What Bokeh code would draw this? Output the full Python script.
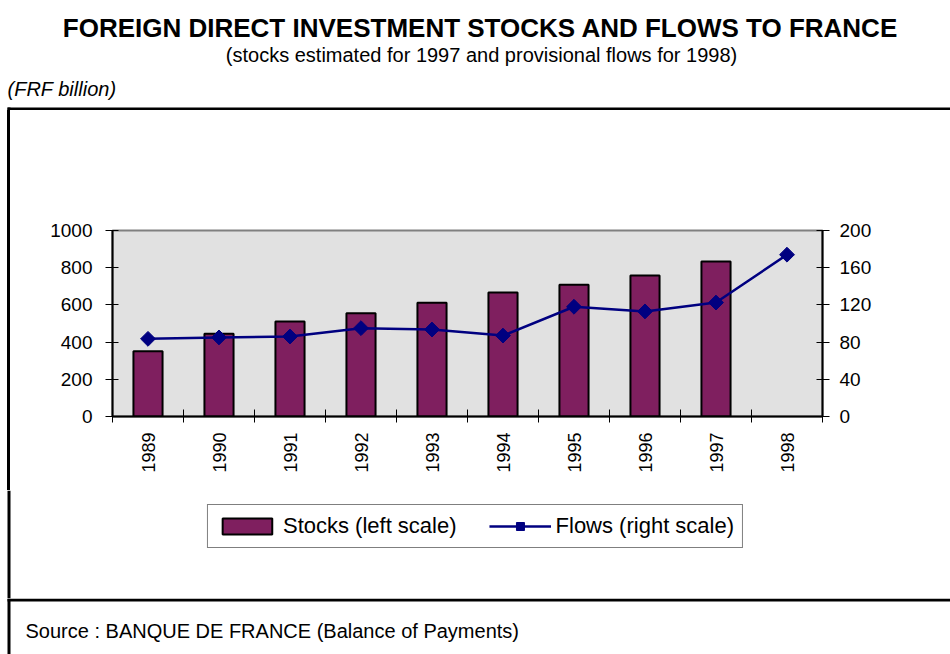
import numpy as np
from bokeh.plotting import figure
from bokeh.layouts import column
from bokeh.models import (ColumnDataSource, Range1d, LinearAxis, Label, BoxAnnotation,
                          Legend, LegendItem, FixedTicker)
from bokeh.embed import file_html
from bokeh.resources import INLINE

years = [1989, 1990, 1991, 1992, 1993, 1994, 1995, 1996, 1997, 1998]
stocks = [351, 445, 511, 555, 611, 667, 708, 758, 833]
flows = [83.5, 85, 86, 95, 93.5, 87, 118, 113, 122.5, 174]
left_ticks = [0, 200, 400, 600, 800, 1000]
right_ticks = [0, 40, 80, 120, 160, 200]
series_names = ["Stocks (left scale)", "Flows (right scale)"]

title_text = "FOREIGN DIRECT INVESTMENT STOCKS AND FLOWS TO FRANCE"
subtitle_text = "(stocks estimated for 1997 and provisional flows for 1998)"
unit_text = "(FRF billion)"
source_text = "Source : BANQUE DE FRANCE (Balance of Payments)"

FONT = "Liberation Sans"
BAR_COLOR = "#7F1F5F"
LINE_COLOR = "#000080"
W = 950


def blank(width, height):
    f = figure(width=width, height=height, output_backend="svg", toolbar_location=None,
               x_range=Range1d(0, width), y_range=Range1d(height, 0),
               x_axis_type=None, y_axis_type=None, min_border=0, frame_align=False,
               border_fill_color="white", background_fill_color="white")
    f.outline_line_color = None
    f.grid.visible = False
    return f


def left_rule(f, top=None):
    f.add_layout(BoxAnnotation(left=7, right=10, top=top, fill_color="black", fill_alpha=1,
                               line_color=None))


# ---- header -------------------------------------------------------------
head = blank(W, 110)
head.add_layout(Label(x=480, y=27, text=title_text, text_font=FONT, text_font_style="bold",
                      text_font_size="26px", text_color="black",
                      text_align="center", text_baseline="middle"))
head.add_layout(Label(x=481, y=54, text=subtitle_text, text_font=FONT, text_font_size="20px",
                      text_color="black", text_align="center", text_baseline="middle"))
head.add_layout(Label(x=7, y=88, text=unit_text, text_font=FONT, text_font_style="italic",
                      text_font_size="20px", text_color="black",
                      text_align="left", text_baseline="middle"))
head.add_layout(BoxAnnotation(left=7, top=107, bottom=110, fill_color="black", fill_alpha=1,
                              line_color=None))
left_rule(head, top=107)

# ---- chart ---------------------------------------------------------------
bar_src = ColumnDataSource(dict(x=years[:len(stocks)], top=stocks))
line_src = ColumnDataSource(dict(x=years, y=flows))

p = figure(width=W, height=380, output_backend="svg", toolbar_location=None, frame_align=False,
           x_range=Range1d(years[0] - 0.5, years[-1] + 0.5), y_range=Range1d(0, 1000),
           min_border_left=112, min_border_right=128, min_border_top=120, min_border_bottom=74,
           background_fill_color="#E1E1E1", border_fill_color=None,
           styles={"background-color": "white",
                   "background-image": "linear-gradient(#000000, #000000)",
                   "background-size": "3px 100%",
                   "background-position": "7px 0px",
                   "background-repeat": "no-repeat"})
p.outline_line_color = "#808080"
p.outline_line_width = 2
p.grid.visible = False
p.extra_y_ranges = {"flows": Range1d(0, 200)}

p.vbar(x="x", top="top", width=0.41, source=bar_src, fill_color=BAR_COLOR,
       line_color="black", line_width=2)
p.line(x="x", y="y", source=line_src, y_range_name="flows", line_color=LINE_COLOR, line_width=2.5)
p.scatter(x="x", y="y", source=line_src, y_range_name="flows", marker="square", angle=np.pi / 4,
          size=10.5, fill_color=LINE_COLOR, line_color=LINE_COLOR)

xa = p.xaxis[0]
boundaries = [y - 0.5 for y in years] + [years[-1] + 0.5]
xa.ticker = FixedTicker(ticks=years, minor_ticks=boundaries)
xa.major_label_overrides = {y: str(y) for y in years}
xa.major_tick_line_color = None
xa.minor_tick_in = 7
xa.minor_tick_out = 6
xa.minor_tick_line_color = "black"
xa.minor_tick_line_width = 1
xa.major_label_orientation = np.pi / 2
xa.major_label_standoff = 10
xa.major_label_text_font = FONT
xa.major_label_text_font_size = "18px"
xa.major_label_text_color = "black"
xa.axis_line_color = "black"
xa.axis_line_width = 2

ya = p.yaxis[0]
ya.ticker = FixedTicker(ticks=left_ticks)
ya.minor_tick_line_color = None
ya.major_tick_in = 6
ya.major_tick_out = 7
ya.major_tick_line_color = "black"
ya.major_label_standoff = 13
ya.major_label_text_font = FONT
ya.major_label_text_font_size = "19px"
ya.major_label_text_color = "black"
ya.axis_line_color = "black"
ya.axis_line_width = 2

ra = LinearAxis(y_range_name="flows", ticker=FixedTicker(ticks=right_ticks))
ra.minor_tick_line_color = None
ra.major_tick_in = 6
ra.major_tick_out = 7
ra.major_tick_line_color = "black"
ra.major_label_standoff = 10
ra.major_label_text_font = FONT
ra.major_label_text_font_size = "19px"
ra.major_label_text_color = "black"
ra.axis_line_color = "black"
ra.axis_line_width = 2
p.add_layout(ra, "right")

# ---- legend strip (proxy glyphs carry no coordinates) ----------------------
lg = blank(W, 108)
left_rule(lg)
proxy = ColumnDataSource(dict(x=[float("nan")], top=[float("nan")], y=[float("nan")]))
r_bar = lg.vbar(x="x", top="top", width=0.4, source=proxy, fill_color=BAR_COLOR,
                line_color="black", line_width=2)
r_line = lg.line(x="x", y="y", source=proxy, line_color=LINE_COLOR, line_width=2.5)
r_mk = lg.scatter(x="x", y="y", source=proxy, marker="square", angle=np.pi / 4, size=11,
                  fill_color=LINE_COLOR, line_color=LINE_COLOR)
legend = Legend(items=[LegendItem(label=series_names[0], renderers=[r_bar]),
                       LegendItem(label=series_names[1], renderers=[r_line, r_mk])],
                orientation="horizontal", location="top_center",
                label_text_font=FONT, label_text_font_size="22px", label_text_color="black",
                glyph_width=62, glyph_height=20, spacing=32, padding=8, margin=14,
                border_line_color="black", border_line_width=1.5, background_fill_color="white",
                label_standoff=5)
lg.add_layout(legend, "center")

# ---- footer ---------------------------------------------------------------
foot = blank(W, 56)
foot.add_layout(BoxAnnotation(left=7, top=0, bottom=3, fill_color="black", fill_alpha=1,
                              line_color=None))
left_rule(foot)
foot.add_layout(Label(x=25, y=32, text=source_text, text_font=FONT, text_font_size="20px",
                      text_color="black", text_align="left", text_baseline="middle"))

layout = column(head, p, lg, foot, spacing=0)
open("out.html", "w").write(file_html(layout, INLINE))
